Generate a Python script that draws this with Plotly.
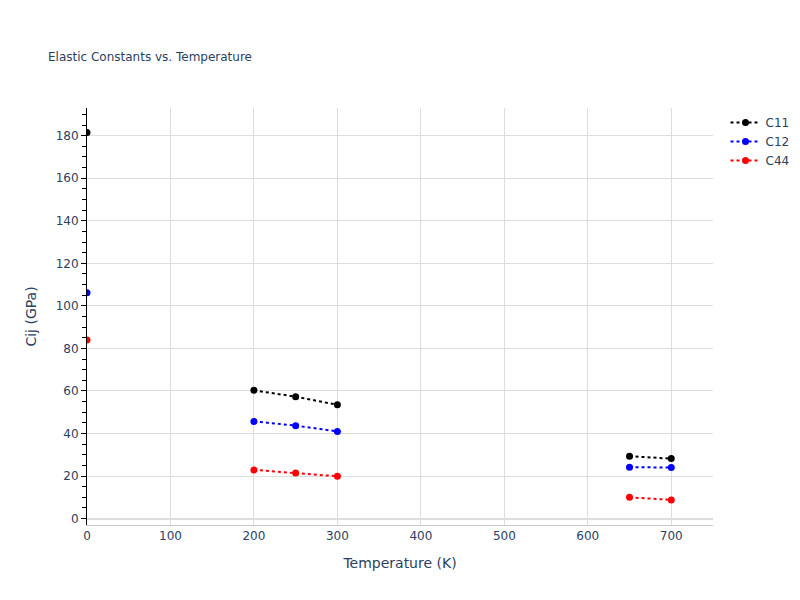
import plotly.graph_objects as go

temps = [0, None, 200, 250, 300, None, 650, 700]
c11 = [181.5, None, 60.3, 57.3, 53.5, None, 29.3, 28.2]
c12 = [106.2, None, 45.7, 43.7, 41.0, None, 24.2, 24.0]
c44 = [84.0, None, 22.9, 21.4, 19.9, None, 10.0, 8.8]

fig = go.Figure()
for name, vals, col in [("C11", c11, "black"), ("C12", c12, "blue"), ("C44", c44, "red")]:
    fig.add_trace(go.Scatter(x=temps, y=vals, name=name, mode="lines+markers",
                             line=dict(color=col, dash="dot"), marker=dict(color=col, size=7),
                             connectgaps=False))
fig.update_layout(
    width=800, height=600, template="plotly_white",
    font=dict(family="DejaVu Sans"),
    margin=dict(l=79, r=95, t=100, b=83),
    title=dict(text="Elastic Constants vs. Temperature", font=dict(size=12), x=0.05, y=0.925),
    xaxis=dict(title="Temperature (K)", range=[0, 750], dtick=100, showgrid=True, gridcolor="#ddd",
               zeroline=False, showline=True, linecolor="#ccc"),
    yaxis=dict(title="Cij (GPa)", range=[-3, 193], dtick=20, gridcolor="#ddd",
               zeroline=True, zerolinecolor="#ddd", zerolinewidth=2,
               showline=True, linecolor="black", ticks="outside", tickcolor="black",
               minor=dict(ticks="outside", dtick=5, tickcolor="black", ticklen=4)),
)
fig.write_html("out.html")
